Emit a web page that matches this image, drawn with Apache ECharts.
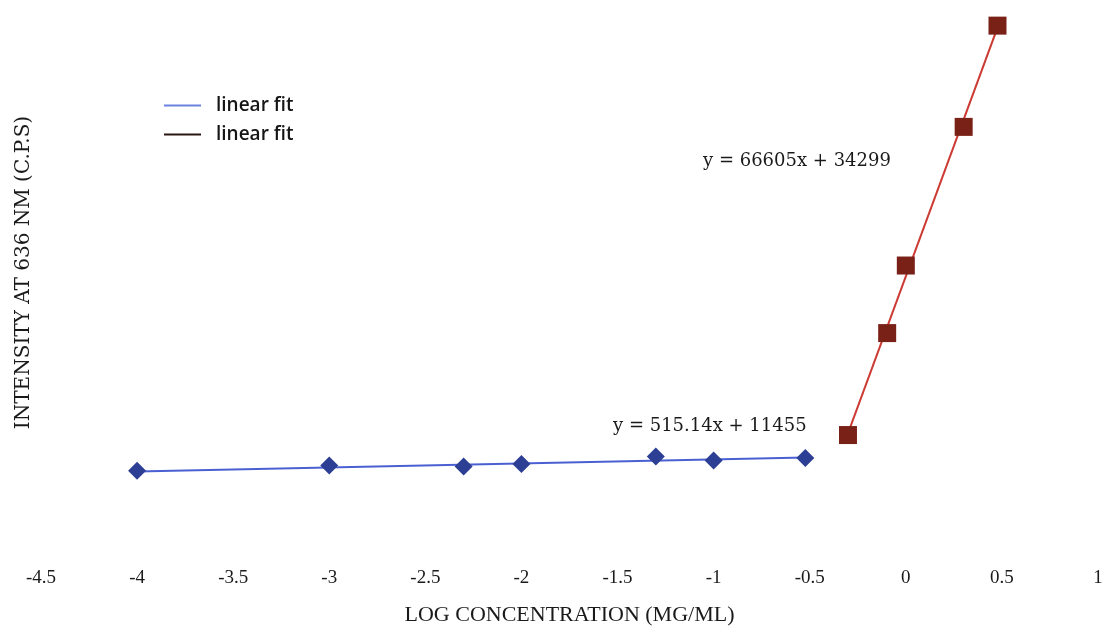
<!DOCTYPE html>
<html><head><meta charset="utf-8">
<script src="https://cdn.jsdelivr.net/npm/echarts@6/dist/echarts.min.js"></script>
<style>html,body{margin:0;padding:0;background:#fff}#c{width:1110px;height:635px}</style>
</head><body><div id="c"></div>
<script>
// ---- data ----
const blueX = [-4, -3, -2.301, -2, -1.301, -1, -0.523];
const blueY = [9484, 10161, 10033, 10340, 11310, 10799, 11106];
const redX = [-0.301, -0.097, 0, 0.301, 0.477];
const redY = [14042, 27062, 35691, 53396, 66327];
const blueFitX = [-4, -0.523];
const blueFitY = [9395, 11186];
const redFitX = [-0.301, 0.477];
const redFitY = [14250, 66070];
const legendLabels = ['linear fit', 'linear fit'];
const equationLabels = ['y = 515.14x + 11455', 'y = 66605x + 34299'];
const xAxisTitle = 'LOG CONCENTRATION (MG/ML)';
const yAxisTitle = 'INTENSITY AT 636 NM (C.P.S)';

const pairs = (xs, ys) => xs.map((x, i) => [x, ys[i]]);

const chart = echarts.init(document.getElementById('c'), null, {renderer: 'canvas'});
chart.setOption({
  animation: false,
  backgroundColor: '#ffffff',
  grid: {left: 41, right: 12, top: 0, bottom: 90},
  legend: {
    orient: 'vertical', left: 164, top: 96, itemGap: 10, padding: 0,
    icon: 'rect', itemWidth: 37, itemHeight: 2,
    formatter: n => n.startsWith('fitB') ? legendLabels[0] : legendLabels[1],
    textStyle: {fontFamily: 'Open Sans', fontWeight: 600, fontSize: 19, color: '#151515', padding: [0, 0, 0, 10]},
    data: [
      {name: 'fitB', itemStyle: {color: '#6b82e0'}},
      {name: 'fitR', itemStyle: {color: '#2a1612'}}
    ]
  },
  xAxis: {
    type: 'value', min: -4.5, max: 1, interval: 0.5,
    axisLine: {show: false}, axisTick: {show: false}, splitLine: {show: false},
    axisLabel: {fontFamily: 'Liberation Serif', fontSize: 19, color: '#1a1a1a', margin: 24},
    name: xAxisTitle, nameLocation: 'middle', nameGap: 59,
    nameTextStyle: {fontFamily: 'Liberation Serif', fontSize: 22, color: '#1a1a1a'}
  },
  yAxis: {
    type: 'value', min: 0, max: 69600,
    axisLine: {show: false}, axisTick: {show: false}, splitLine: {show: false},
    axisLabel: {show: false},
    name: yAxisTitle, nameLocation: 'middle', nameGap: 7,
    nameTextStyle: {fontFamily: 'DejaVu Serif', fontSize: 20, color: '#1a1a1a'}
  },
  series: [
    {name: 'fitB', type: 'line', data: pairs(blueFitX, blueFitY), symbol: 'none',
     lineStyle: {color: '#4a60d2', width: 2}, itemStyle: {color: '#6b82e0'}, z: 2},
    {name: 'fitR', type: 'line', data: pairs(redFitX, redFitY), symbol: 'none',
     lineStyle: {color: '#cc3a33', width: 2}, itemStyle: {color: '#2a1612'}, z: 2},
    {name: 'blue', type: 'scatter', data: pairs(blueX, blueY), symbol: 'diamond', symbolSize: 18,
     itemStyle: {color: '#2c3f94', opacity: 1}, z: 3},
    {name: 'red', type: 'scatter', data: pairs(redX, redY), symbol: 'rect', symbolSize: 18,
     itemStyle: {color: '#7a2117', opacity: 1}, z: 3}
  ],
  graphic: [
    {type: 'text', left: 613, top: 417, style: {text: equationLabels[0], font: '18px "DejaVu Serif"', fill: '#1a1a1a'}},
    {type: 'text', left: 703, top: 152, style: {text: equationLabels[1], font: '18px "DejaVu Serif"', fill: '#1a1a1a'}}
  ]
});
</script></body></html>
